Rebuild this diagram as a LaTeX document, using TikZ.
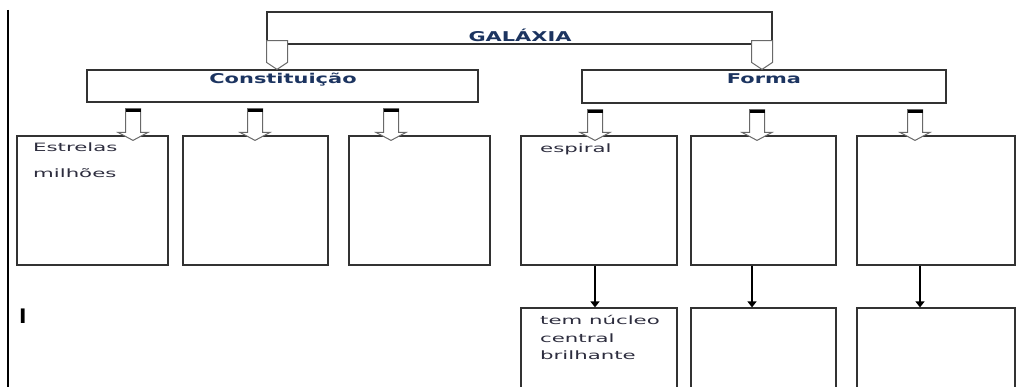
\documentclass[tikz,border=0pt]{standalone}
\usepackage{fontspec}
\usetikzlibrary{calc,arrows.meta}
\newfontfamily\headfont[FakeStretch=1.55]{DejaVu Sans}
\newfontfamily\bodyfont[FakeStretch=1.85]{DejaVu Sans}
\newfontfamily\cursorfont{DejaVu Sans}
\definecolor{headblue}{RGB}{28,52,96}
\definecolor{bodygray}{RGB}{45,45,62}
\definecolor{framegray}{RGB}{50,50,50}
\definecolor{hollowgray}{RGB}{105,105,105}
\tikzset{
  box/.style={draw=framegray,line width=1.2pt,inner sep=0pt},
  headtext/.style={text=headblue,font=\headfont\bfseries\fontsize{13.5}{16}\selectfont,inner sep=0pt,anchor=base},
  bodytext/.style={text=bodygray,font=\bodyfont\fontsize{11.5}{17.5}\selectfont,inner sep=0pt,anchor=base west,align=left},
  hollow/.style={draw=hollowgray,fill=white,line width=1pt,line join=miter},
  capbar/.style={draw=black,line width=3pt},
  thinarrow/.style={draw=black,line width=1.2pt,-{Triangle[width=9pt,length=6pt]}}
}
\newcommand{\fatdown}[3]{%
  \path[hollow] let \p1=(#1,0 |- #2), \p2=(#1,0 |- #3) in
    (\x1-7.5pt,\y1-6pt) -- (\x1-7.5pt,\y2+3pt) -- (\x1-15pt,\y2+3pt) -- (\x1,\y2-5pt)
    -- (\x1+15pt,\y2+3pt) -- (\x1+7.5pt,\y2+3pt) -- (\x1+7.5pt,\y1-6pt) -- cycle;
  \path[capbar] let \p1=(#1,0 |- #2) in (\x1-7.5pt,\y1-7.5pt) -- (\x1+7.5pt,\y1-7.5pt);}
\newcommand{\tipdown}[3]{%
  \path[hollow] let \p1=(#1,0 |- #2), \p2=(#1,0 |- #3) in
    (\x1-10.5pt,\y1+4pt) -- (\x1-10.5pt,\y2+7pt) -- (\x1,\y2)
    -- (\x1+10.5pt,\y2+7pt) -- (\x1+10.5pt,\y1+4pt) -- cycle;}
\begin{document}
\begin{tikzpicture}[x=1pt,y=-1pt]
\useasboundingbox (0,0) rectangle (1019,387);
\clip (0,0) rectangle (1019,387);
\draw[line width=2pt] (8,10) -- (8,387);
\node[box,minimum width=505pt,minimum height=32pt] (gal) at (519.5,28) {};
\node[box,minimum width=391pt,minimum height=32pt] (cons) at (282.5,86) {};
\node[box,minimum width=364pt,minimum height=33pt] (forma) at (764,86.5) {};
\node[box,minimum width=151pt,minimum height=129pt] (e1) at (92.5,200.5) {};
\node[box,minimum width=145pt,minimum height=129pt] (e2) at (255.5,200.5) {};
\node[box,minimum width=141pt,minimum height=129pt] (e3) at (419.5,200.5) {};
\node[box,minimum width=156pt,minimum height=129pt] (f1) at (599,200.5) {};
\node[box,minimum width=145pt,minimum height=129pt] (f2) at (763.5,200.5) {};
\node[box,minimum width=158pt,minimum height=129pt] (f3) at (936,200.5) {};
\node[box,minimum width=156pt,minimum height=104pt] (g1) at (599,360) {};
\node[box,minimum width=145pt,minimum height=104pt] (g2) at (763.5,360) {};
\node[box,minimum width=158pt,minimum height=104pt] (g3) at (936,360) {};
\tipdown{277}{gal.south}{cons.north}
\tipdown{762}{gal.south}{forma.north}
\fatdown{133}{cons.south}{e1.north}
\fatdown{255}{cons.south}{e2.north}
\fatdown{391}{cons.south}{e3.north}
\fatdown{595}{forma.south}{f1.north}
\fatdown{757}{forma.south}{f2.north}
\fatdown{915}{forma.south}{f3.north}
\draw[thinarrow] (595,0 |- f1.south) -- (595,0 |- g1.north);
\draw[thinarrow] (752,0 |- f2.south) -- (752,0 |- g2.north);
\draw[thinarrow] (920,0 |- f3.south) -- (920,0 |- g3.north);
\node[headtext] (galtxt) at (520,42) {GALÁXIA};
\node[headtext] (constxt) at (283,84) {Constituição};
\node[headtext] (formatxt) at (764,84) {Forma};
\node[bodytext] (estrelas) at (33,152) {Estrelas};
\node[bodytext] (milhoes) at (33,178) {milhões};
\node[bodytext] (espiral) at (540,153) {espiral};
\node[bodytext,anchor=north west] (nucleo) at (540,315.5) {tem núcleo\\central\\brilhante};
\node[anchor=base west,inner sep=0pt,font=\cursorfont\bfseries\fontsize{20}{20}\selectfont] (cursor) at (19,323) {I};
\end{tikzpicture}
\end{document}
